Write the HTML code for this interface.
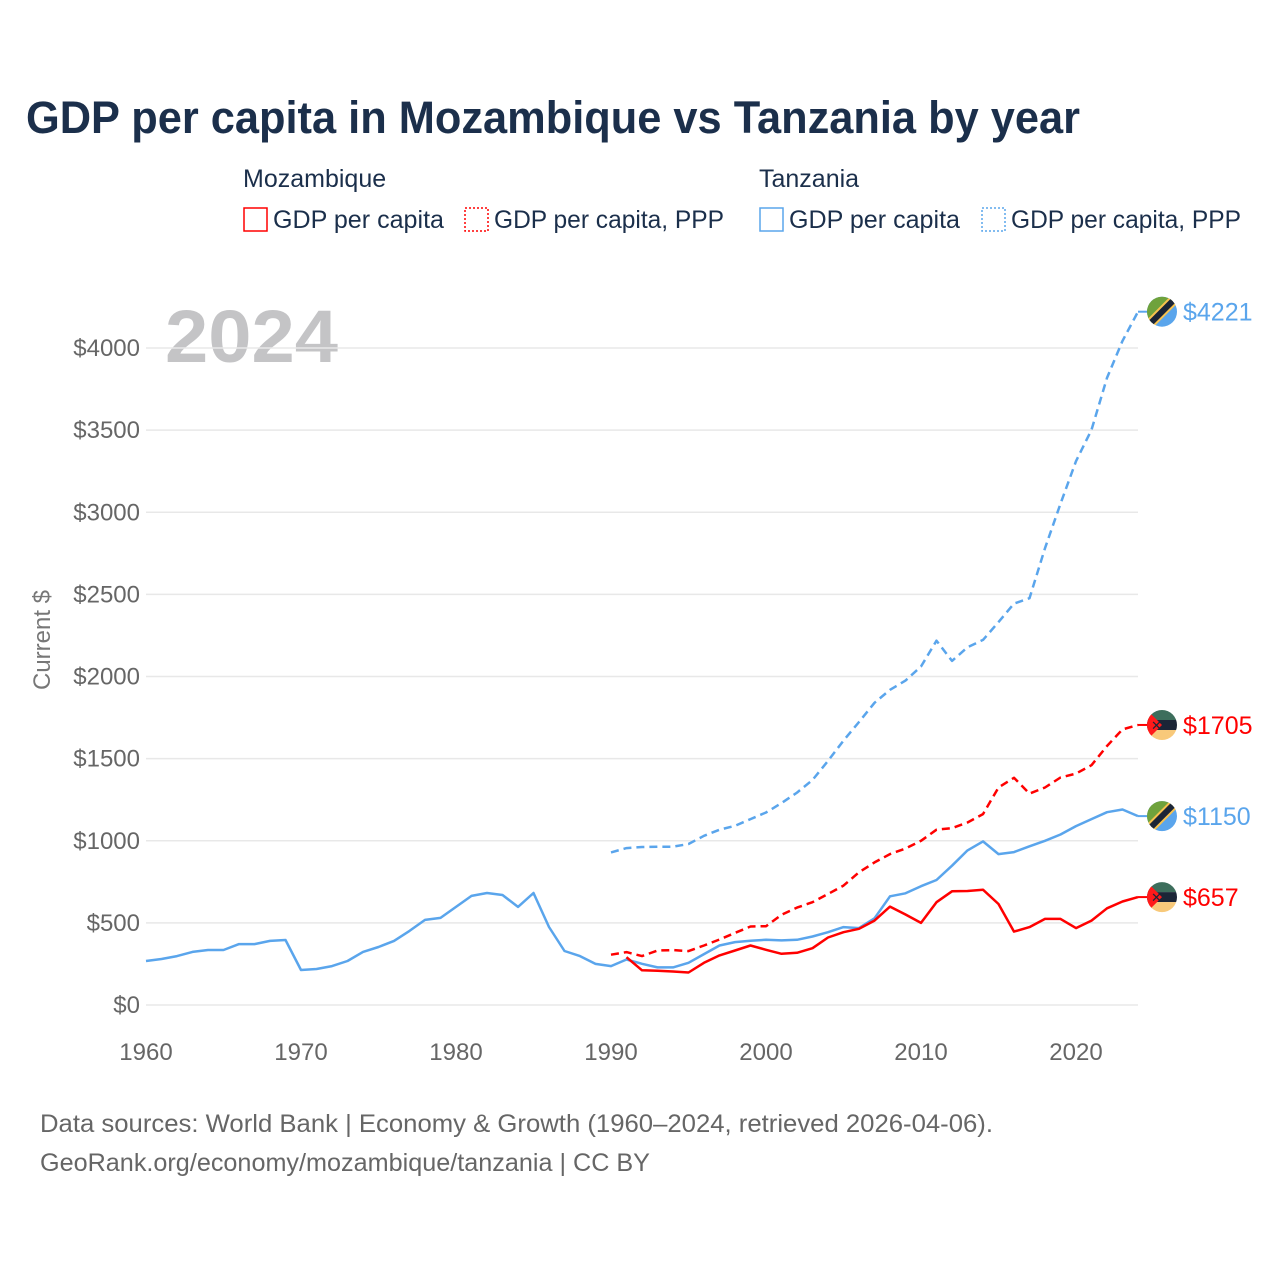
<!DOCTYPE html>
<html><head><meta charset="utf-8"><style>
html,body{margin:0;padding:0;background:#fff;width:1280px;height:1280px;overflow:hidden}
svg{display:block;font-family:"Liberation Sans",sans-serif}
</style></head><body>
<svg id="chart" width="1280" height="1280" viewBox="0 0 1280 1280">
<defs>
<clipPath id="fc1"><circle cx="0" cy="0" r="15"/></clipPath>
</defs>
<text x="26" y="133" font-size="45" font-weight="bold" fill="#1b2f4b" textLength="1054" lengthAdjust="spacingAndGlyphs">GDP per capita in Mozambique vs Tanzania by year</text>
<g font-size="25" fill="#1b2f4b">
<text x="243" y="187">Mozambique</text>
<text x="759" y="187">Tanzania</text>
<g><rect x="244" y="208" width="23" height="23" fill="none" stroke="#ff0000" stroke-width="1.5"/><text x="273" y="228" textLength="171" lengthAdjust="spacingAndGlyphs">GDP per capita</text></g>
<g><rect x="465" y="208" width="23" height="23" fill="none" stroke="#ff0000" stroke-width="1.5" stroke-dasharray="2,2"/><text x="494" y="228" textLength="230" lengthAdjust="spacingAndGlyphs">GDP per capita, PPP</text></g>
<g><rect x="760" y="208" width="23" height="23" fill="none" stroke="#5aa5ec" stroke-width="1.5"/><text x="789" y="228" textLength="171" lengthAdjust="spacingAndGlyphs">GDP per capita</text></g>
<g><rect x="982" y="208" width="23" height="23" fill="none" stroke="#5aa5ec" stroke-width="1.5" stroke-dasharray="2,2"/><text x="1011" y="228" textLength="230" lengthAdjust="spacingAndGlyphs">GDP per capita, PPP</text></g>
</g>
<text x="165" y="362" font-size="74" font-weight="bold" fill="#c4c4c6" textLength="173" lengthAdjust="spacingAndGlyphs">2024</text>
<text transform="translate(50,640) rotate(-90)" text-anchor="middle" font-size="24" fill="#777">Current $</text>
<g id="grid"></g><g id="yticks"></g><g id="xticks"></g><g id="series"></g><g id="ends"></g>
<text x="40" y="1132" font-size="25" fill="#666" textLength="953" lengthAdjust="spacingAndGlyphs">Data sources: World Bank | Economy &amp; Growth (1960–2024, retrieved 2026-04-06).</text>
<text x="40" y="1171" font-size="25" fill="#666" textLength="610" lengthAdjust="spacingAndGlyphs">GeoRank.org/economy/mozambique/tanzania | CC BY</text>
</svg>
<script>
const yTicks=[0,500,1000,1500,2000,2500,3000,3500,4000];
const xTicks=[1960,1970,1980,1990,2000,2010,2020];
const tzaGdpYears0=1960;
const tzaGdp=[268,280,298,323,335,335,371,371,390,396,213,219,237,268,323,353,390,451,518,530,597,664,682,670,597,682,475,329,298,250,237,277,251,229,229,257,310,362,383,391,397,393,397,417,443,474,468,528,662,680,723,761,848,941,996,919,931,966,1000,1038,1089,1132,1174,1190,1150];
const mozGdpYear0=1991;
const mozGdp=[291,211,209,204,198,257,302,332,362,336,312,318,346,411,443,464,514,599,551,500,626,692,694,702,615,447,474,524,524,468,514,589,630,657];
const mozPppYear0=1990;
const mozPpp=[306,322,298,332,334,328,362,399,439,478,480,549,593,626,676,727,808,868,919,953,1000,1067,1077,1111,1162,1324,1383,1287,1324,1385,1409,1460,1577,1678,1705];
const tzaPppYear0=1990;
const tzaPpp=[929,955,962,964,964,980,1030,1067,1091,1132,1172,1229,1293,1370,1486,1610,1723,1840,1919,1975,2061,2218,2095,2178,2223,2331,2444,2477,2781,3052,3311,3502,3818,4043,4221];
const NS="http://www.w3.org/2000/svg";
const X=yr=>146+(yr-1960)*15.5;
const Y=v=>1005-v*657/4000;
function mk(tag,attrs,parent){const e=document.createElementNS(NS,tag);for(const k in attrs)e.setAttribute(k,attrs[k]);parent.appendChild(e);return e;}
const grid=document.getElementById('grid'),yt=document.getElementById('yticks'),xt=document.getElementById('xticks'),ser=document.getElementById('series'),ends=document.getElementById('ends');
yTicks.forEach(v=>{
 const l=mk('line',{x1:146,x2:1138,y1:Y(v),y2:Y(v),stroke:'#e8e8e8','stroke-width':1.5},grid);
 
 
 const t=mk('text',{x:140,y:Y(v)+8,'text-anchor':'end','font-size':24,fill:'#666'},yt);
 t.textContent='$'+v;
 
 
});
xTicks.forEach(yr=>{
 const t=mk('text',{x:X(yr),y:1060,'text-anchor':'middle','font-size':24,fill:'#666'},xt);
 t.textContent=yr;
 
 
});
function line(arr,y0,color,dash,name){
 const d=arr.map((v,i)=>(i?'L':'M')+X(y0+i).toFixed(1)+','+Y(v).toFixed(1)).join(' ');
 const p=mk('path',{d:d,fill:'none',stroke:color,'stroke-width':2.5,'stroke-linejoin':'round'},ser);
 if(dash)p.setAttribute('stroke-dasharray','8,5');
 
 
}
line(tzaPpp,tzaPppYear0,'#5aa5ec',true,'line-tanzania-ppp');
line(mozPpp,mozPppYear0,'#ff0000',true,'line-mozambique-ppp');
line(tzaGdp,tzaGdpYears0,'#5aa5ec',false,'line-tanzania-gdp');
line(mozGdp,mozGdpYear0,'#ff0000',false,'line-mozambique-gdp');
function endMark(v,color,country,name){
 const y=Y(v);
 mk('line',{x1:1138,x2:1150,y1:y,y2:y,stroke:color,'stroke-width':2},ends);
 const g=mk('g',{transform:'translate(1162,'+y.toFixed(1)+')'},ends);
 
 
 const c=mk('g',{'clip-path':'url(#fc1)'},g);
 if(country==='tza'){
  mk('rect',{x:-16,y:-16,width:32,height:32,fill:'#5aa5ec'},c);
  mk('polygon',{points:'-16,-16 16,-16 -16,16',fill:'#6fa23c'},c);
  mk('line',{x1:-16,y1:16,x2:16,y2:-16,stroke:'#f8c24e','stroke-width':10},c);
  mk('line',{x1:-16,y1:16,x2:16,y2:-16,stroke:'#1b2537','stroke-width':6},c);
 }else{
  mk('rect',{x:-16,y:-16,width:32,height:11,fill:'#3d6e5c'},c);
  mk('rect',{x:-16,y:-5,width:32,height:10,fill:'#1b2537'},c);
  mk('rect',{x:-16,y:5,width:32,height:11,fill:'#f8c97a'},c);
  mk('polygon',{points:'-16,-16 0,0 -16,16',fill:'#ff1a1a'},c);
  mk('text',{x:-11,y:5,'font-size':13,fill:'#1b2537'},c).textContent='✕';
 }
 const t=mk('text',{x:1183,y:y+9,'font-size':25,fill:color},ends);
 t.textContent='$'+v;
 
 
}
endMark(tzaPpp[tzaPpp.length-1],'#5aa5ec','tza','end-tanzania-ppp');
endMark(mozPpp[mozPpp.length-1],'#ff0000','moz','end-mozambique-ppp');
endMark(tzaGdp[tzaGdp.length-1],'#5aa5ec','tza','end-tanzania-gdp');
endMark(mozGdp[mozGdp.length-1],'#ff0000','moz','end-mozambique-gdp');
</script>
</body></html>
